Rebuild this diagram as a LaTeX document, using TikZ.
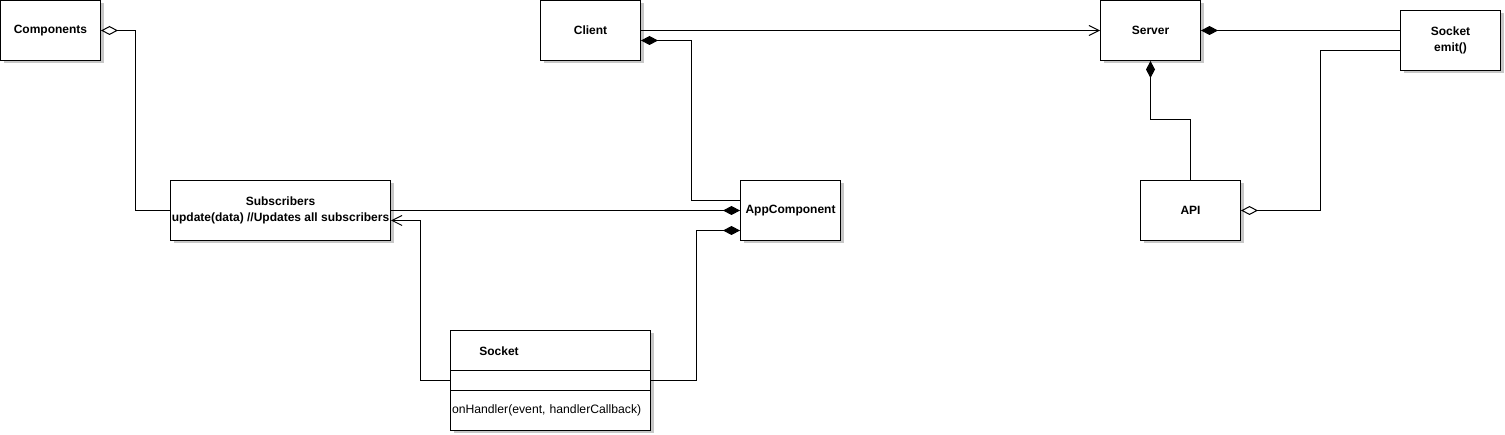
\documentclass[tikz,border=0pt]{standalone}
\usepackage{fontspec}
\setmainfont{Liberation Sans}
\usetikzlibrary{arrows.meta,shadows}
\begin{document}
\begin{tikzpicture}[x=1pt,y=-1pt,
  box/.style={draw=black,fill=white,line width=1pt,anchor=north west,inner sep=0pt,align=center,
    font=\fontsize{12}{16}\selectfont\bfseries,
    drop shadow={shadow xshift=3pt,shadow yshift=-3pt,fill=black!22,opacity=1}},
  conn/.style={draw=black,line width=1pt},
  aggr/.style={conn,-{Diamond[open,fill=white,length=17pt,width=9pt,line width=1pt]}},
  compo/.style={conn,-{Diamond[length=17pt,width=9pt]}},
  assoc/.style={conn,-{Straight Barb[length=10pt,width=10pt,line width=1pt]}}
]
\useasboundingbox (0,0) rectangle (1505,435);
\node[box,minimum width=100pt,minimum height=60pt] (comp) at (0,0) {Components};
\node[box,minimum width=100pt,minimum height=60pt] (client) at (540,0) {Client};
\node[box,minimum width=100pt,minimum height=60pt] (server) at (1100,0) {Server};
\node[box,minimum width=100pt,minimum height=60pt] (emit) at (1400,10) {Socket\\emit()};
\node[box,minimum width=220pt,minimum height=60pt] (subs) at (170,180) {Subscribers\\update(data) //Updates all subscribers};
\node[box,minimum width=100pt,minimum height=60pt] (app) at (740,180) {AppComponent};
\node[box,minimum width=100pt,minimum height=60pt] (api) at (1140,180) {API};
\node[box,minimum width=200pt,minimum height=40pt] (sockhead) at (450,330) {};
\node[box,minimum width=200pt,minimum height=20pt] (sockattr) at (450,370) {};
\node[box,minimum width=200pt,minimum height=40pt,align=left,font=\fontsize{12.2}{14}\selectfont,text width=197pt] (sockops) at (450,390) {onHandler(event, handlerCallback)};
\node[font=\fontsize{12}{14}\selectfont\bfseries,inner sep=0pt] (socklbl) at (499,351) {Socket};
% connectors
\draw[aggr] (subs.west) -- ++(-35,0) |- (comp.east);
\draw[compo] (subs.east) -- (app.west);
\draw[compo] ([yshift=10pt]app.west) -- ++(-49,0) |- ([yshift=-10pt]client.east);
\draw[assoc] (client.east) -- (server.west);
\draw[assoc] (sockattr.west) -- ++(-30,0) |- ([yshift=-10pt]subs.east);
\draw[compo] (sockattr.east) -- ++(45,0) |- ([yshift=-20pt]app.west);
\draw[compo] ([yshift=10pt]emit.west) -- (server.east);
\draw[compo] (api.north) -- ++(0,-60) -| (server.south);
\draw[aggr] ([yshift=-10pt]emit.west) -- ++(-80,0) |- (api.east);
\end{tikzpicture}
\end{document}
